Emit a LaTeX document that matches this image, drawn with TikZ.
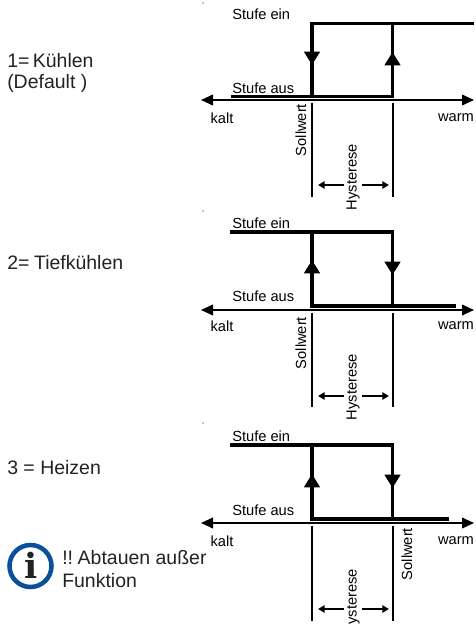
\documentclass[tikz,border=0pt]{standalone}
\usepackage{fontspec}
\setmainfont{Liberation Sans}
\newfontfamily\infofont{DejaVu Serif}
\usetikzlibrary{arrows.meta}
\definecolor{infoblue}{HTML}{0B4F9C}
\definecolor{textgrey}{HTML}{222222}
\tikzset{
    axisline/.style={line width=1.3pt, {Triangle[length=9pt,width=8pt]}-{Triangle[length=9pt,width=8pt]}},
    stepline/.style={line width=2.5pt},
    markline/.style={line width=1.5pt},
    steptip/.style={line width=2.5pt, -{Triangle[length=10pt,width=11.5pt]}},
    hystline/.style={line width=1.3pt, {Triangle[length=5pt,width=5.5pt]}-{Triangle[length=5pt,width=5.5pt]}},
    smalltext/.style={font=\fontsize{11}{13}\selectfont, text=black, inner sep=0pt},
    hysttext/.style={smalltext, rotate=90, fill=white, inner ysep=1.5pt},
    bigtext/.style={font=\fontsize{14.6}{17}\selectfont, text=textgrey, inner sep=0pt, anchor=west},
}
\newcommand{\drawaxis}[5]{
    % #1 tag, #2 axis y, #3 lower end of the marks, #4 hysteresis arrow y, #5 text y
    \coordinate (kalt#1) at (201, #2);
    \coordinate (warm#1) at (474, #2);
    \draw[axisline] (kalt#1) -- (warm#1);
    \draw[markline] (312, #2+3) -- (312, #3);
    \draw[markline] (392.5, #2+3) -- (392.5, #3);
    \draw[hystline] (318, #4) -- (389, #4);
    \node[smalltext] (kaltlabel#1) at (222, #5) {kalt};
    \node[smalltext] (warmlabel#1) at (456, #5) {warm};
}
\newcommand{\drawtip}[3]{
    \draw[steptip] (#1, #2) -- (#1, #3);
}
\begin{document}
\begin{tikzpicture}[x=0.75pt, y=-0.75pt]
    \useasboundingbox (0, 0) rectangle (475, 624);

    \fill (203, 3) circle (0.4pt);
    \fill (203, 211) circle (0.4pt);
    \fill (203, 423) circle (0.4pt);

    \node[bigtext] (kuehlen) at (7, 61) {1=\kern2.6pt Kühlen};
    \node[bigtext] (default) at (7, 83) {(Default )};
    \node[bigtext] (tief) at (7, 263) {2=\kern3.5pt Tiefkühlen};
    \node[bigtext] (heizen) at (7, 468) {3 = Heizen};
    \node[bigtext] (abtauen) at (62, 558) {!!\kern3.5pt Abtauen außer};
    \node[bigtext] (funktion) at (62, 581) {Funktion};

    \draw[infoblue, line width=3.4pt] (30.5, 566) circle (21);
    \node[font=\infofont\bfseries\fontsize{26}{26}\selectfont, text=textgrey, inner sep=0pt] (info) at (31, 565) {i};

    \drawaxis{a}{100}{197}{185}{118}
    \draw[stepline] (231, 96.5) -- (392.5, 96.5) -- (392.5, 23.5) -- (474, 23.5);
    \draw[stepline] (312, 96.5) -- (312, 23.5) -- (392.5, 23.5);
    \drawtip{312}{30}{65}
    \drawtip{392.5}{90}{52}
    \node[smalltext, anchor=west] (eina) at (232, 14) {Stufe ein};
    \node[smalltext, anchor=west] (ausa) at (232, 88) {Stufe aus};
    \node[smalltext, rotate=90] (solla) at (301, 130) {Sollwert};
    \node[hysttext] (hysta) at (353, 177) {Hysterese};

    \drawaxis{b}{310}{407}{396}{326}
    \draw[stepline] (230, 232) -- (392.5, 232) -- (392.5, 306) -- (456, 306);
    \draw[stepline] (312, 232) -- (312, 306) -- (392.5, 306);
    \drawtip{312}{300}{260}
    \drawtip{392.5}{238}{275}
    \node[smalltext, anchor=west] (einb) at (232, 223) {Stufe ein};
    \node[smalltext, anchor=west] (ausb) at (232, 296) {Stufe aus};
    \node[smalltext, rotate=90] (sollb) at (301, 343) {Sollwert};
    \node[hysttext] (hystb) at (353, 387) {Hysterese};

    \drawaxis{c}{523}{621}{609}{541}
    \draw[stepline] (230, 445) -- (392.5, 445) -- (392.5, 519) -- (449, 519);
    \draw[stepline] (312, 445) -- (312, 519) -- (392.5, 519);
    \drawtip{312}{513}{474}
    \drawtip{392.5}{451}{488}
    \node[smalltext, anchor=west] (einc) at (232, 436) {Stufe ein};
    \node[smalltext, anchor=west] (ausc) at (232, 510) {Stufe aus};
    \node[smalltext, rotate=90] (sollc) at (407, 554) {Sollwert};
    \node[hysttext] (hystc) at (353, 602) {Hysterese};
\end{tikzpicture}
\end{document}
